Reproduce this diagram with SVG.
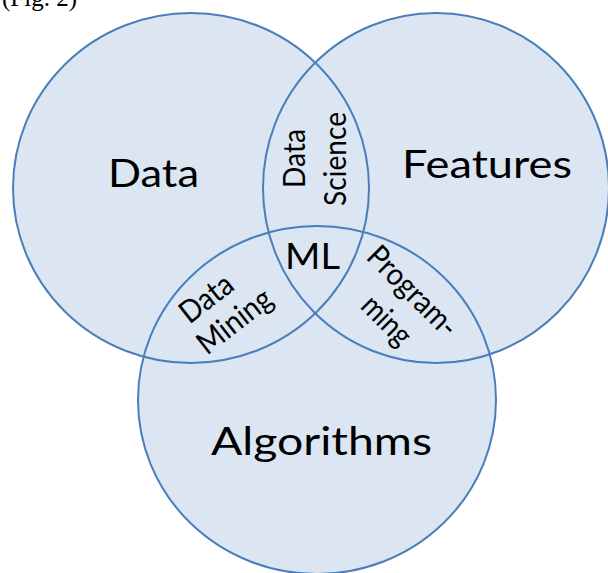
<svg xmlns="http://www.w3.org/2000/svg" xmlns:xlink="http://www.w3.org/1999/xlink" width="608" height="573" viewBox="0 0 608 573">
  <style>
    .fill { fill: #dce6f2; stroke: none; }
    .ring { fill: none; stroke: #4a7ebb; stroke-width: 2; }
    .big { font-family: "Lato", "Open Sans", sans-serif; font-size: 39px; fill: #000; }
    .mid { font-family: "Lato", "Open Sans", sans-serif; font-size: 37px; fill: #000; }
    .small { font-family: "Lato", "Open Sans", sans-serif; font-size: 31px; fill: #000; text-anchor: middle; }
    .caption { font-family: "Liberation Serif", "Times New Roman", serif; font-size: 25px; fill: #000; }
  </style>
  <defs>
    <ellipse id="shape-data" cx="191" cy="188" rx="178" ry="175"/>
    <ellipse id="shape-features" cx="436" cy="188" rx="173" ry="175"/>
    <ellipse id="shape-algorithms" cx="317" cy="400" rx="179" ry="174"/>
  </defs>

  <rect width="608" height="573" fill="#ffffff"/>
  <text class="caption" x="2" y="6">(Fig. 2)</text>

  <!-- shared fill underneath all outlines -->
  <g id="fills">
    <use xlink:href="#shape-data" class="fill"/>
    <use xlink:href="#shape-features" class="fill"/>
    <use xlink:href="#shape-algorithms" class="fill"/>
  </g>

  <g id="node-data">
    <use xlink:href="#shape-data" class="ring"/>
    <text class="big" x="108" y="187" textLength="91" lengthAdjust="spacingAndGlyphs">Data</text>
  </g>

  <g id="node-features">
    <use xlink:href="#shape-features" class="ring"/>
    <text class="big" x="402" y="178" textLength="170" lengthAdjust="spacingAndGlyphs">Features</text>
  </g>

  <g id="node-algorithms">
    <use xlink:href="#shape-algorithms" class="ring"/>
    <text class="big" x="211" y="455" textLength="221" lengthAdjust="spacingAndGlyphs">Algorithms</text>
  </g>

  <!-- overlap labels -->
  <g id="node-data-science">
    <text class="small" transform="translate(305 158.5) rotate(-90)" textLength="59" lengthAdjust="spacingAndGlyphs">Data</text>
    <text class="small" transform="translate(345.5 159) rotate(-90)" textLength="94" lengthAdjust="spacingAndGlyphs">Science</text>
  </g>

  <g id="node-data-mining">
    <text class="small" transform="translate(206 298) rotate(-38)" y="11" textLength="59" lengthAdjust="spacingAndGlyphs">Data</text>
    <text class="small" transform="translate(236 323) rotate(-38)" y="8" textLength="86" lengthAdjust="spacingAndGlyphs">Mining</text>
  </g>

  <g id="node-programming">
    <text class="small" transform="translate(411 293) rotate(45)" y="8" textLength="114" lengthAdjust="spacingAndGlyphs">Program-</text>
    <text class="small" transform="translate(385 322) rotate(45)" y="8" textLength="57" lengthAdjust="spacingAndGlyphs">ming</text>
  </g>

  <g id="node-ml">
    <text class="mid" x="285" y="269" textLength="55" lengthAdjust="spacingAndGlyphs">ML</text>
  </g>

  <g id="connectors"/>
</svg>
